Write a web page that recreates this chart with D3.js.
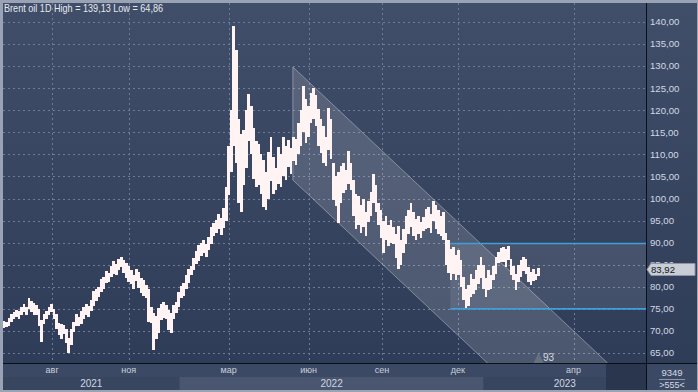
<!DOCTYPE html>
<html><head><meta charset="utf-8">
<script src="https://cdn.jsdelivr.net/npm/d3@7/dist/d3.min.js"></script>
<style>
html,body{margin:0;padding:0;background:#9aa3b3;}
svg{display:block;font-family:"Liberation Sans",Arial,sans-serif;}
</style></head>
<body><svg id="c" width="698" height="392"></svg>
<script>
// ---------------- DATA ----------------
const title = "Brent oil 1D High = 139,13 Low = 64,86";
const firstBarDate = "2021-06-04";   // bars are 3 calendar days apart
const barStepDays = 3;
const highs = [
72.3,72.0,73.0,73.8,74.3,74.8,74.6,75.4,76.0,75.5,
77.5,76.8,76.4,75.8,74.9,72.5,73.8,74.6,75.5,76.0,
75.0,73.8,71.9,71.6,71.3,70.4,68.3,70.5,72.0,73.8,
73.2,74.5,75.5,76.0,75.6,77.0,79.0,79.4,80.0,81.7,
82.3,83.6,83.2,84.6,85.8,85.2,86.2,86.8,86.0,85.5,
84.6,83.8,82.6,84.0,83.4,82.0,81.6,80.4,79.6,75.5,
74.0,73.4,75.2,76.2,76.6,75.8,74.8,74.0,75.8,76.6,
78.8,80.2,80.8,82.6,84.0,84.6,86.6,88.0,89.4,90.0,
90.6,89.8,91.2,93.6,94.4,95.2,96.6,95.6,97.8,102.6,
112.0,120.0,139.1,133.6,118.0,114.7,115.6,120.0,123.6,121.0,
116.0,113.0,112.4,110.0,108.7,106.0,110.5,114.0,109.4,107.0,
111.7,110.0,114.0,112.0,113.2,111.4,114.0,113.4,117.0,120.0,
125.6,122.5,121.0,124.0,125.0,123.4,120.2,118.0,116.4,114.0,
120.6,118.0,108.0,105.0,106.0,107.3,108.0,106.4,110.7,108.0,
104.3,101.0,100.5,98.6,99.8,97.0,99.4,101.4,105.5,103.0,
99.0,97.5,95.0,96.0,94.0,95.2,93.6,92.0,93.8,90.6,
93.0,96.0,97.4,99.0,97.0,95.4,96.0,94.6,95.8,97.6,
98.0,96.6,99.4,98.6,97.5,96.0,97.0,92.3,90.6,88.6,
89.0,87.2,88.3,86.0,82.3,79.6,80.4,83.0,81.8,83.8,
85.0,86.8,84.9,82.0,83.8,82.6,84.6,86.8,87.8,88.7,
89.0,88.6,89.2,86.4,84.6,83.0,85.0,86.0,86.8,86.2,
84.5,83.4,84.0,83.0,84.2];
const lows = [
70.6,70.9,71.2,72.1,72.6,73.2,72.8,73.6,74.2,73.5,
75.0,74.2,73.5,73.6,71.0,67.6,71.5,72.7,73.6,74.3,
72.6,70.5,69.0,68.2,69.4,67.2,64.9,66.8,69.8,71.2,
71.0,71.6,72.8,73.5,73.2,74.6,75.6,76.8,77.6,78.8,
79.6,80.8,81.0,82.2,83.0,82.6,83.8,84.4,83.2,82.0,
81.0,80.6,79.4,81.2,79.8,78.6,78.0,77.4,72.0,71.8,
65.7,68.2,69.6,72.4,73.0,72.6,70.2,69.6,72.8,74.0,
75.4,77.4,78.0,79.4,80.8,82.6,83.8,85.2,85.8,87.0,
87.6,86.8,88.4,89.8,91.6,92.2,93.0,91.8,93.4,95.0,
100.8,106.0,112.0,108.0,99.0,97.0,103.0,107.0,113.0,110.0,
104.5,102.6,103.0,101.0,98.0,97.3,100.0,104.0,101.0,102.0,
103.2,102.6,105.0,104.1,107.2,105.6,108.4,107.6,110.0,112.0,
115.0,112.6,114.0,117.0,118.0,116.4,112.0,110.4,108.0,107.3,
111.0,108.9,99.6,98.3,94.5,99.0,101.3,102.0,103.4,102.0,
96.0,93.0,94.0,92.3,93.6,91.5,94.6,96.0,99.0,97.0,
94.0,91.0,87.7,90.6,89.2,90.0,89.6,86.6,84.0,85.0,
87.7,89.8,92.0,93.6,91.5,90.7,92.0,91.0,92.6,93.0,
93.4,92.3,94.8,93.0,92.0,91.5,90.6,85.0,83.2,81.5,
83.0,81.5,82.6,80.0,77.0,75.1,75.6,77.7,78.4,79.2,
80.7,82.0,79.6,77.7,79.2,79.6,81.5,83.0,85.3,85.6,
85.6,84.5,86.0,82.6,81.5,79.2,81.0,82.3,83.6,83.0,
81.0,80.4,81.2,81.5,82.4];
const lastClose = 83.92;
const priceTicks = [65,70,75,80,85,90,95,100,105,110,115,120,125,130,135,140];
const monthTicks = [
  {label:"авг", date:"2021-08-01"}, {label:"ноя", date:"2021-11-01"},
  {label:"мар", date:"2022-03-01"}, {label:"июн", date:"2022-06-05"},
  {label:"сен", date:"2022-09-01"}, {label:"дек", date:"2022-12-01"},
  {label:"апр", date:"2023-04-19"}];
const yearBands = [
  {label:"2021", from:"2021-06-03", to:"2022-01-01", light:false},
  {label:"2022", from:"2022-01-01", to:"2023-01-01", light:true},
  {label:"2023", from:"2023-01-01", to:"2023-07-15", light:false}];
const futureFrom = "2023-05-28";
// descending channel: top line two points, bottom line parallel
const channelTop = [{date:"2022-05-17", price:129.8}, {date:"2023-05-30", price:62.7}];
const channelWidth = 25.6;
// horizontal range box
const rangeBox = {from:"2022-11-22", top:89.8, bottom:75.0};
const note = {text:"93", date:"2023-03-20", price:63.9};
const footerTop = "9349", footerBottom = ">555<";

// ---------------- DRAW ----------------
const W=698, H=392;
const P = {l:3, t:3, r:646, b:363};
const svg = d3.select("#c");
const D = s => new Date(s+"T00:00:00Z");
const x = d3.scaleUtc().domain([D("2021-06-03"), D("2023-07-15")]).range([P.l, P.r]);
const y = d3.scaleLinear().domain([140 + (22-P.t)/4.413, 140 - (P.b-22)/4.413]).range([P.t, P.b]);

const defs = svg.append("defs");
const g1 = defs.append("linearGradient").attr("id","bg").attr("x1",0).attr("y1",0).attr("x2",0).attr("y2",1);
g1.append("stop").attr("offset","0%").attr("stop-color","#414e69");
g1.append("stop").attr("offset","100%").attr("stop-color","#2d3b57");
defs.append("clipPath").attr("id","clip").append("rect")
  .attr("x",P.l).attr("y",P.t).attr("width",P.r-P.l).attr("height",P.b-P.t);

// frame
svg.append("rect").attr("width",W).attr("height",H).attr("fill","#9aa3b3");
svg.append("rect").attr("x",P.l).attr("y",P.t).attr("width",W-P.l-1).attr("height",H-P.t-2).attr("fill","url(#bg)");

// bottom axis area
svg.append("rect").attr("x",P.l).attr("y",P.b).attr("width",W-P.l-1).attr("height",H-2-P.b).attr("fill","#3c4964");
const yrTop = 377;
svg.append("g").selectAll("rect").data(yearBands).join("rect")
  .attr("x",d=>x(D(d.from))).attr("y",yrTop)
  .attr("width",d=>x(D(d.to))-x(D(d.from))).attr("height",H-2-yrTop)
  .attr("fill",d=>d.light?"#4a5670":"#38455f");
svg.append("rect").attr("x",x(D(futureFrom))).attr("y",P.b)
  .attr("width",P.r-x(D(futureFrom))).attr("height",H-2-P.b).attr("fill","#2a364e");

const plot = svg.append("g").attr("clip-path","url(#clip)");

// grid
plot.append("g").selectAll("line").data(priceTicks).join("line")
  .attr("x1",P.l).attr("x2",P.r).attr("y1",d=>Math.round(y(d))+0.5).attr("y2",d=>Math.round(y(d))+0.5)
  .attr("stroke","#6e7b96").attr("stroke-dasharray","2,3");
plot.append("g").selectAll("line").data(monthTicks).join("line")
  .attr("x1",d=>Math.round(x(D(d.date)))+0.5).attr("x2",d=>Math.round(x(D(d.date)))+0.5)
  .attr("y1",P.t).attr("y2",P.b)
  .attr("stroke","#6e7b96").attr("stroke-dasharray","2,3");

// channel
const t0 = D(channelTop[0].date), t1 = D(channelTop[1].date);
const chan = [
  [x(t0), y(channelTop[0].price)], [x(t1), y(channelTop[1].price)],
  [x(t1), y(channelTop[1].price - channelWidth)], [x(t0), y(channelTop[0].price - channelWidth)]];
plot.append("path").attr("d", d3.line()(chan)+"Z")
  .attr("fill","rgba(255,255,255,0.14)").attr("stroke","rgba(210,215,225,0.45)").attr("stroke-width",1);

// range box
plot.append("rect").attr("x",x(D(rangeBox.from))).attr("y",y(rangeBox.top))
  .attr("width",P.r-x(D(rangeBox.from))).attr("height",y(rangeBox.bottom)-y(rangeBox.top))
  .attr("fill","rgba(255,255,255,0.09)");
plot.append("g").selectAll("line").data([rangeBox.top, rangeBox.bottom]).join("line")
  .attr("x1",x(D(rangeBox.from))).attr("x2",P.r).attr("y1",d=>y(d)).attr("y2",d=>y(d))
  .attr("stroke","#3f9fd8").attr("stroke-width",1.6);

// bars
const bars = highs.map((h,i)=>({date:d3.utcDay.offset(D(firstBarDate), i*barStepDays), high:h, low:lows[i]}));
plot.append("g").attr("shape-rendering","crispEdges").selectAll("rect").data(bars).join("rect")
  .attr("x",d=>x(d.date)-1.3).attr("width",2.6)
  .attr("y",d=>y(d.high)).attr("height",d=>Math.max(1,y(d.low)-y(d.high)))
  .attr("fill","#fff3f3");

// note
const nx = x(D(note.date)), ny = y(note.price);
plot.append("path").attr("d",`M${nx-15},${P.b}L${nx-10},${ny-5}L${nx-5},${P.b}Z`).attr("fill","rgba(120,128,140,0.6)");
plot.append("text").attr("x",nx).attr("y",ny).attr("dy","0.35em").attr("text-anchor","middle")
  .attr("font-size",10).attr("fill","#d5dbe6").text(note.text);

// axis lines
svg.append("line").attr("x1",P.l).attr("x2",W-1).attr("y1",P.b+0.5).attr("y2",P.b+0.5).attr("stroke","#0b0f18");
svg.append("line").attr("x1",P.r+0.5).attr("x2",P.r+0.5).attr("y1",P.t).attr("y2",H-2).attr("stroke","#0b0f18");

// right axis labels
const fmt = v => v.toFixed(2).replace(".",",");
svg.append("g").selectAll("text").data(priceTicks).join("text")
  .attr("x",P.r+4).attr("y",d=>y(d)).attr("dy","0.35em")
  .attr("font-size",9.6).attr("fill","#d3d9e3").text(fmt);

// bottom month / year labels
svg.append("g").selectAll("text").data(monthTicks).join("text")
  .attr("x",d=>x(D(d.date))).attr("y",373).attr("text-anchor","middle")
  .attr("font-size",9).attr("fill","#c9d0dc").text(d=>d.label);
svg.append("g").selectAll("text").data(yearBands).join("text")
  .attr("x",d=>(x(D(d.from))+x(D(d.to)))/2).attr("y",387).attr("text-anchor","middle")
  .attr("font-size",10).attr("fill","#d0d6e0").text(d=>d.label);

// last price label
const ly = y(lastClose);
svg.append("path").attr("d",`M${P.r+1},${ly}L${P.r+5},${ly-6}L${W-3},${ly-6}L${W-3},${ly+6}L${P.r+5},${ly+6}Z`)
  .attr("fill","#c9cdd6").attr("stroke","#8e96a6");
svg.append("text").attr("x",P.r+5).attr("y",ly).attr("dy","0.35em").attr("font-size",9.6)
  .attr("fill","#101522").text(fmt(lastClose));

// footer box
const fx = (P.r+W)/2;
svg.append("text").attr("x",fx).attr("y",376).attr("text-anchor","middle").attr("font-size",9.5).attr("fill","#d3d9e3").text(footerTop);
svg.append("line").attr("x1",fx-13).attr("x2",fx+13).attr("y1",379.5).attr("y2",379.5).attr("stroke","#8f99ab");
svg.append("text").attr("x",fx).attr("y",388).attr("text-anchor","middle").attr("font-size",9).attr("fill","#d3d9e3").text(footerBottom);

// title
svg.append("text").attr("x",4).attr("y",12).attr("font-size",10.5).attr("fill","#e6eaf0")
  .attr("textLength",159).attr("lengthAdjust","spacingAndGlyphs").text(title);
</script></body></html>
